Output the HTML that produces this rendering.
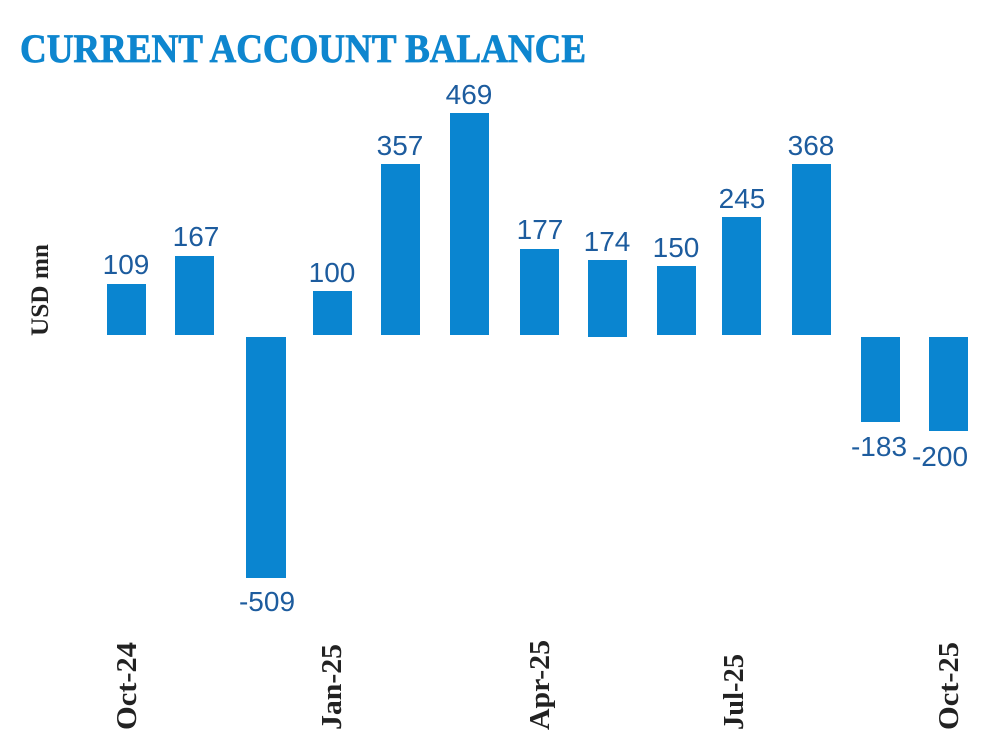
<!DOCTYPE html><html><head><style>body{margin:0;background:#fff}</style></head><body>
<svg width="1000" height="746" xmlns="http://www.w3.org/2000/svg">
<text x="20" y="62" font-family="Liberation Serif,serif" font-weight="bold" font-size="40" fill="#0e86cf" stroke="#0e86cf" stroke-width="0.8" textLength="566" lengthAdjust="spacingAndGlyphs">CURRENT ACCOUNT BALANCE</text>
<text transform="translate(48,336) rotate(-90)" font-family="Liberation Serif,serif" font-weight="bold" font-size="25" fill="#222" textLength="92" lengthAdjust="spacingAndGlyphs">USD mn</text>
<g fill="#0a85d0">
<rect x="107" y="284" width="39" height="51"/>
<rect x="175" y="256" width="39" height="79"/>
<rect x="246" y="337" width="40" height="241"/>
<rect x="313" y="291" width="39" height="44"/>
<rect x="381" y="164" width="39" height="171"/>
<rect x="450" y="113" width="39" height="222"/>
<rect x="520" y="249" width="39" height="86"/>
<rect x="588" y="260" width="39" height="77"/>
<rect x="657" y="266" width="39" height="69"/>
<rect x="722" y="217" width="39" height="118"/>
<rect x="792" y="164" width="39" height="171"/>
<rect x="861" y="337" width="39" height="85"/>
<rect x="929" y="337" width="39" height="94"/>
</g>
<g font-family="Liberation Sans,sans-serif" font-size="28" fill="#1d5c9e" text-anchor="middle">
<text x="126" y="274">109</text><text x="196" y="246">167</text><text x="267" y="611">-509</text>
<text x="332" y="282">100</text><text x="400" y="155">357</text><text x="469" y="104">469</text>
<text x="540" y="239">177</text><text x="607" y="251">174</text><text x="676" y="257">150</text>
<text x="742" y="208">245</text><text x="811" y="155">368</text><text x="879" y="456">-183</text><text x="940" y="466">-200</text>
</g>
<g font-family="Liberation Serif,serif" font-weight="bold" font-size="28" fill="#222">
<text transform="translate(136,730) rotate(-90)" textLength="88" lengthAdjust="spacingAndGlyphs">Oct-24</text>
<text transform="translate(341,730) rotate(-90)" textLength="86" lengthAdjust="spacingAndGlyphs">Jan-25</text>
<text transform="translate(549,730) rotate(-90)" textLength="90" lengthAdjust="spacingAndGlyphs">Apr-25</text>
<text transform="translate(743,730) rotate(-90)" textLength="76" lengthAdjust="spacingAndGlyphs">Jul-25</text>
<text transform="translate(958,730) rotate(-90)" textLength="88" lengthAdjust="spacingAndGlyphs">Oct-25</text>
</g>
</svg></body></html>
